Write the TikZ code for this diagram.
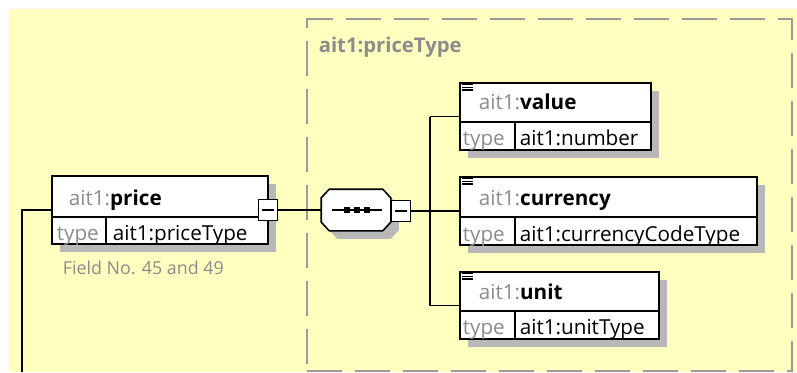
\documentclass[tikz,border=0pt]{standalone}
\usepackage{fontspec}
\setmainfont{Open Sans}
\definecolor{bgyellow}{RGB}{255, 255, 192}
\definecolor{shadowgray}{RGB}{184, 184, 184}
\definecolor{txtgray}{RGB}{140, 140, 140}
\definecolor{dashgray}{RGB}{155, 155, 155}
\usetikzlibrary{shadows, fit, positioning}

\begin{document}
\begin{tikzpicture}[x=0.75pt, y=-0.75pt, line width=1.2pt,
  elem/.style={draw, fill=white, inner sep=0pt, drop shadow={shadow xshift=6pt, shadow yshift=-6pt, fill=shadowgray, opacity=1}},
  nametxt/.style={anchor=base west, inner sep=0pt, font=\fontsize{15.5pt}{18pt}\selectfont},
  keytxt/.style={anchor=base west, inner sep=0pt, text=txtgray, font=\fontsize{15.5pt}{18pt}\selectfont},
  minusbox/.style={draw, fill=white, inner sep=0pt, minimum width=14.5pt, minimum height=15.5pt,
    path picture={\draw ([xshift=3pt]path picture bounding box.west) -- ([xshift=-3pt]path picture bounding box.east);}},
  conn/.style={line width=1.2pt}]

  % Background
  \fill[white] (0,0) rectangle (797,372);
  \fill[bgyellow] (9,9) rectangle (797,372);
  \useasboundingbox (0,0) rectangle (797,372);

  % Complex type frame
  \node[draw=dashgray, line width=1.5pt, dash pattern=on 26pt off 10pt, inner sep=0pt, fit={(307,19) (792,371)}] (pricetype) {};
  \node[anchor=base west, inner sep=0pt, text=txtgray, font=\fontsize{15.2pt}{18pt}\selectfont\bfseries] (pricetypename) at (318,52) {ait1:priceType};

  % Parent element
  \node[elem, fit={(52,176) (268,244)}] (price) {};
  \draw (52,217) -- (268,217) (106,217) -- (106,244);
  \node[nametxt] (pricename) at (68,205) {\textcolor{txtgray}{ait1:}\textbf{price}};
  \node[keytxt] (pricekey) at (56,240) {type};
  \node[nametxt] (priceval) at (112,240) {ait1:priceType};
  \node[anchor=base west, inner sep=0pt, text=txtgray, font=\fontsize{13.4pt}{16pt}\selectfont] (pricenote) at (62,274) {Field No. 45 and 49};
  \node[minusbox] (priceminus) at (268,210) {};

  % Sequence compositor
  \node[inner sep=0pt, minimum width=51pt, minimum height=30pt] (seq) at (356,210) {};
  \filldraw[fill=white, drop shadow={shadow xshift=6pt, shadow yshift=-6pt, fill=shadowgray, opacity=1}]
    ([xshift=6pt]seq.north west) -- ([xshift=-6pt]seq.north east) -- ([yshift=-6.5pt]seq.north east) -- ([yshift=6.5pt]seq.south east)
    -- ([xshift=-6pt]seq.south east) -- ([xshift=6pt]seq.south west) -- ([yshift=6.5pt]seq.south west) -- ([yshift=-6.5pt]seq.north west) -- cycle;
  \draw ([xshift=-18pt]seq.center) -- ([xshift=19.5pt]seq.center);
  \fill ([xshift=-6.75pt]seq.center) +(-2pt,-2pt) rectangle +(2pt,2pt);
  \fill ([xshift=0.75pt]seq.center) +(-2pt,-2pt) rectangle +(2pt,2pt);
  \fill ([xshift=8.25pt]seq.center) +(-2pt,-2pt) rectangle +(2pt,2pt);
  \node[minusbox] (seqminus) at (401,211) {};

  % Child elements
  \node[elem, fit={(460,83) (651,150)}] (value) {};
  \draw (460,122) -- (651,122) (515,122) -- (515,150);
  \node[nametxt] (valuename) at (478,109) {\textcolor{txtgray}{ait1:}\textbf{value}};
  \node[keytxt] (valuekey) at (462,145) {type};
  \node[nametxt] (valueval) at (519,145) {ait1:number};

  \node[elem, fit={(460,177) (757,245)}] (currency) {};
  \draw (460,217) -- (757,217) (515,217) -- (515,245);
  \node[nametxt] (currencyname) at (478,205) {\textcolor{txtgray}{ait1:}\textbf{currency}};
  \node[keytxt] (currencykey) at (462,241) {type};
  \node[nametxt] (currencyval) at (519,241) {ait1:currencyCodeType};

  \node[elem, fit={(460,272) (659,339)}] (unit) {};
  \draw (460,311) -- (659,311) (515,311) -- (515,339);
  \node[nametxt] (unitname) at (478,299) {\textcolor{txtgray}{ait1:}\textbf{unit}};
  \node[keytxt] (unitkey) at (462,334) {type};
  \node[nametxt] (unitval) at (519,334) {ait1:unitType};

  % Element icons
  \draw[line width=1pt] ([xshift=2.2pt,yshift=-1.8pt]value.north west) -- ++(8pt,0) ([xshift=2.2pt,yshift=-3.8pt]value.north west) -- ++(8pt,0) ([xshift=2.2pt,yshift=-5.8pt]value.north west) -- ++(8pt,0);
  \draw[line width=1pt] ([xshift=2.2pt,yshift=-1.8pt]currency.north west) -- ++(8pt,0) ([xshift=2.2pt,yshift=-3.8pt]currency.north west) -- ++(8pt,0) ([xshift=2.2pt,yshift=-5.8pt]currency.north west) -- ++(8pt,0);
  \draw[line width=1pt] ([xshift=2.2pt,yshift=-1.8pt]unit.north west) -- ++(8pt,0) ([xshift=2.2pt,yshift=-3.8pt]unit.north west) -- ++(8pt,0) ([xshift=2.2pt,yshift=-5.8pt]unit.north west) -- ++(8pt,0);

  % Connectors
  \coordinate (parent) at (22,372);
  \coordinate (fork) at (430,211);
  \draw[conn] (parent) |- (price.west);
  \draw[conn] (priceminus.east) -- (seq.west);
  \draw[conn] (seqminus.east) -- (fork);
  \draw[conn] (fork |- value.west) -- (fork |- unit.west);
  \draw[conn] (fork |- value.west) -- (value.west);
  \draw[conn] (fork |- currency.west) -- (currency.west);
  \draw[conn] (fork |- unit.west) -- (unit.west);
\end{tikzpicture}
\end{document}
